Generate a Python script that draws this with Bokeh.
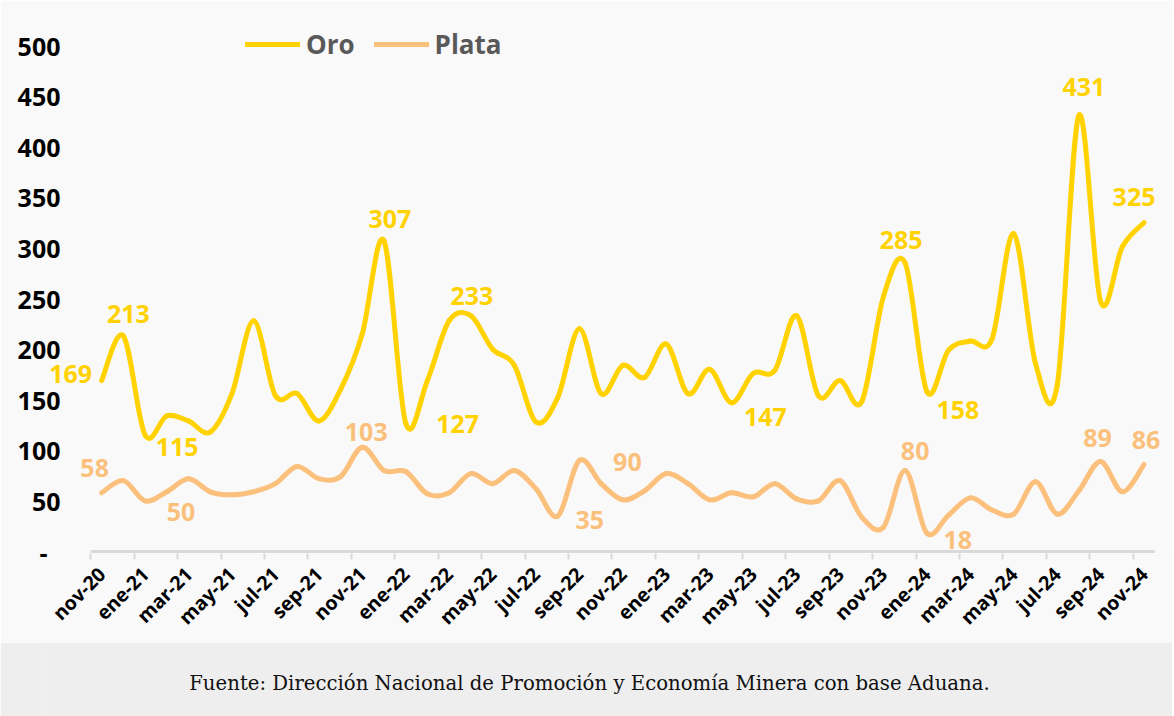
import math
import numpy as np
from bokeh.plotting import figure
from bokeh.models import ColumnDataSource, FixedTicker, Legend, LegendItem, Range1d, LabelSet
from bokeh.layouts import column
from bokeh.embed import file_html
from bokeh.resources import INLINE
from bokeh.core.properties import value

# ---------------- data ----------------
months = ["nov-20", "dic-20", "ene-21", "feb-21", "mar-21", "abr-21", "may-21", "jun-21", "jul-21",
          "ago-21", "sep-21", "oct-21", "nov-21", "dic-21", "ene-22", "feb-22", "mar-22", "abr-22",
          "may-22", "jun-22", "jul-22", "ago-22", "sep-22", "oct-22", "nov-22", "dic-22", "ene-23",
          "feb-23", "mar-23", "abr-23", "may-23", "jun-23", "jul-23", "ago-23", "sep-23", "oct-23",
          "nov-23", "dic-23", "ene-24", "feb-24", "mar-24", "abr-24", "may-24", "jun-24", "jul-24",
          "ago-24", "sep-24", "oct-24", "nov-24"]
oro = [169, 213, 115, 134, 129, 118, 156, 228, 154, 156, 129, 160, 215, 307, 127, 169, 228, 233,
       200, 184, 128, 152, 220, 156, 184, 172, 205, 156, 180, 147, 176, 179, 233, 154, 169, 148,
       252, 285, 158, 199, 208, 210, 314, 186, 164, 431, 247, 301, 325]
plata = [58, 70, 50, 59, 72, 59, 56, 59, 67, 84, 72, 74, 103, 80, 79, 57, 58, 77, 67, 80, 62, 35,
         90, 67, 51, 60, 77, 67, 51, 58, 54, 67, 52, 50, 70, 34, 24, 80, 18, 36, 53, 41, 37, 69,
         37, 60, 89, 59, 86]
y_ticks = [0, 50, 100, 150, 200, 250, 300, 350, 400, 450, 500]
oro_label_idx = [0, 1, 2, 13, 14, 17, 29, 37, 38, 45, 48]
plata_label_idx = [0, 2, 12, 21, 22, 37, 38, 46, 48]
source_text = "Fuente: Dirección Nacional de Promoción y Economía Minera con base Aduana."

# ---------------- styles ----------------
ORO_C = "#FFD200"
PLATA_C = "#FBC07C"
BG = "#F9F9F9"
FOOT_BG = "#EEEEEE"
AXIS_C = "#D9D9D9"
FONT = "Open Sans"
# label offsets in screen px (dx right, dy down)
oro_off = [(-31, -6), (5, -22), (32, 12), (6, -22), (52, 1), (1, -20), (34, 14), (-4, -23),
           (31, 18), (5, -28), (-10, -26)]
plata_off = [(-7, -25), (36, 11), (4, -15), (32, 4), (48, 2), (10, -20), (31, 7), (-3, -23), (2, -24)]

# geometry (pixels)
W = 1172
FRAME_L, FRAME_R = 42, 1168          # drawing frame (wide, so outer labels are not clipped)
AX_L, AX_R = 90.3, 1154.4            # category axis extent
FRAME_T, ZERO_Y, FRAME_B = 20, 551, 553
PX_PER_UNIT = 1.012
FOOT_H = 74


def bezier_source(vals):
    y = np.asarray(vals, dtype=float)
    x = np.arange(len(y), dtype=float)
    n = len(y)
    i = np.arange(n - 1)
    prev = np.clip(i - 1, 0, n - 1)
    nxt2 = np.clip(i + 2, 0, n - 1)
    return ColumnDataSource(dict(
        x0=x[i], y0=y[i], x1=x[i + 1], y1=y[i + 1],
        cx0=x[i] + (x[i + 1] - x[prev]) / 6.0, cy0=y[i] + (y[i + 1] - y[prev]) / 6.0,
        cx1=x[i + 1] - (x[nxt2] - x[i]) / 6.0, cy1=y[i + 1] - (y[nxt2] - y[i]) / 6.0,
    ))


def label_source(vals, idx, offs):
    return ColumnDataSource(dict(
        x=[float(k) for k in idx],
        y=[vals[k] for k in idx],
        text=[str(vals[k]) for k in idx],
        dx=[o[0] for o in offs],
        dy=[-o[1] for o in offs],
    ))


n = len(months)
px_per_cat = (AX_R - AX_L) / n
x_start = -0.5 - (AX_L - FRAME_L) / px_per_cat
x_end = n - 0.5 + (FRAME_R - AX_R) / px_per_cat
y_start = -(FRAME_B - ZERO_Y) / PX_PER_UNIT
y_end = (ZERO_Y - FRAME_T) / PX_PER_UNIT

p = figure(width=W, height=640, frame_width=FRAME_R - FRAME_L, frame_height=FRAME_B - FRAME_T,
           x_range=Range1d(x_start, x_end), y_range=Range1d(y_start, y_end),
           output_backend="svg", toolbar_location=None,
           min_border_left=FRAME_L, min_border_right=W - FRAME_R, min_border_top=FRAME_T,
           min_border_bottom=640 - FRAME_B)
p.background_fill_color = BG
p.border_fill_color = BG
p.outline_line_color = None
p.xgrid.visible = False
p.ygrid.visible = False

# category axis baseline
p.segment(x0=[-0.5], y0=[0], x1=[n - 0.5], y1=[0], line_color=AXIS_C, line_width=3)

# lines (smoothed Bezier through the data points)
r_oro = p.bezier(x0="x0", y0="y0", x1="x1", y1="y1", cx0="cx0", cy0="cy0", cx1="cx1", cy1="cy1",
                 source=bezier_source(oro), line_color=ORO_C, line_width=5, line_cap="round")
r_plata = p.bezier(x0="x0", y0="y0", x1="x1", y1="y1", cx0="cx0", cy0="cy0", cx1="cx1", cy1="cy1",
                   source=bezier_source(plata), line_color=PLATA_C, line_width=5, line_cap="round")

# data labels
for vals, idx, offs, col in ((oro, oro_label_idx, oro_off, ORO_C),
                             (plata, plata_label_idx, plata_off, PLATA_C)):
    ls = LabelSet(x="x", y="y", text="text", x_offset="dx", y_offset="dy",
                  source=label_source(vals, idx, offs),
                  text_font=value(FONT), text_font_style="bold", text_font_size="25px",
                  text_color=col, text_align="center", text_baseline="middle")
    p.add_layout(ls)

# x axis: labels at category centres (every 2 months), tick marks between categories
xa = p.xaxis[0]
centers = list(range(0, n, 2))
xa.ticker = FixedTicker(ticks=centers, minor_ticks=[c - 0.5 for c in centers])
xa.major_label_overrides = {c: months[c] for c in centers}
xa.major_label_orientation = math.pi / 4
xa.major_label_text_font = FONT
xa.major_label_text_font_style = "bold"
xa.major_label_text_font_size = "19.5px"
xa.major_label_text_color = "#000000"
xa.major_label_standoff = 11
xa.major_tick_line_color = None
xa.major_tick_in = 0
xa.major_tick_out = 0
xa.minor_tick_line_color = AXIS_C
xa.minor_tick_line_width = 2
xa.minor_tick_in = 0
xa.minor_tick_out = 6
xa.axis_line_color = None

# y axis (labels drawn over the wide frame's left margin)
ya = p.yaxis[0]
ya.ticker = FixedTicker(ticks=y_ticks)
ya.major_label_overrides = {0: "-\u00a0\u00a0"}
ya.major_label_text_font = FONT
ya.major_label_text_font_style = "bold"
ya.major_label_text_font_size = "25px"
ya.major_label_text_color = "#000000"
ya.major_label_standoff = -(60 - FRAME_L)
ya.major_tick_in = 0
ya.major_tick_out = 0
ya.axis_line_color = None
ya.major_tick_line_color = None
ya.minor_tick_line_color = None

# legend
legend = Legend(items=[LegendItem(label="Oro", renderers=[r_oro]),
                       LegendItem(label="Plata", renderers=[r_plata])],
                orientation="horizontal", location=(245 - FRAME_L, FRAME_B - 45 - 17),
                glyph_width=55, glyph_height=30, label_standoff=6, spacing=19,
                padding=0, margin=0, border_line_color=None, background_fill_alpha=0,
                label_text_font=FONT, label_text_font_style="bold", label_text_font_size="26px",
                label_text_color="#595959", label_text_baseline="middle")
p.add_layout(legend, "center")

# footer (same left border as the chart so the column keeps both frames aligned)
f = figure(width=W, height=FOOT_H, frame_width=W - FRAME_L, frame_height=FOOT_H,
           x_range=Range1d(0, 1), y_range=Range1d(0, 1),
           output_backend="svg", toolbar_location=None,
           min_border_left=FRAME_L, min_border_right=0, min_border_top=0, min_border_bottom=0)
f.axis.visible = False
f.xgrid.visible = False
f.ygrid.visible = False
f.outline_line_color = None
f.background_fill_color = FOOT_BG
f.background_fill_alpha = 1
f.border_fill_color = FOOT_BG
f.border_fill_alpha = 1
f.text(x=[(589 - FRAME_L) / (W - FRAME_L)], y=[1 - 41 / FOOT_H], text=[source_text],
       text_font=value("DejaVu Serif"), text_font_size="19.7px", text_color="#111111",
       text_align="center", text_baseline="middle")

layout = column(p, f, spacing=0)
open("out.html", "w").write(file_html(layout, INLINE))
